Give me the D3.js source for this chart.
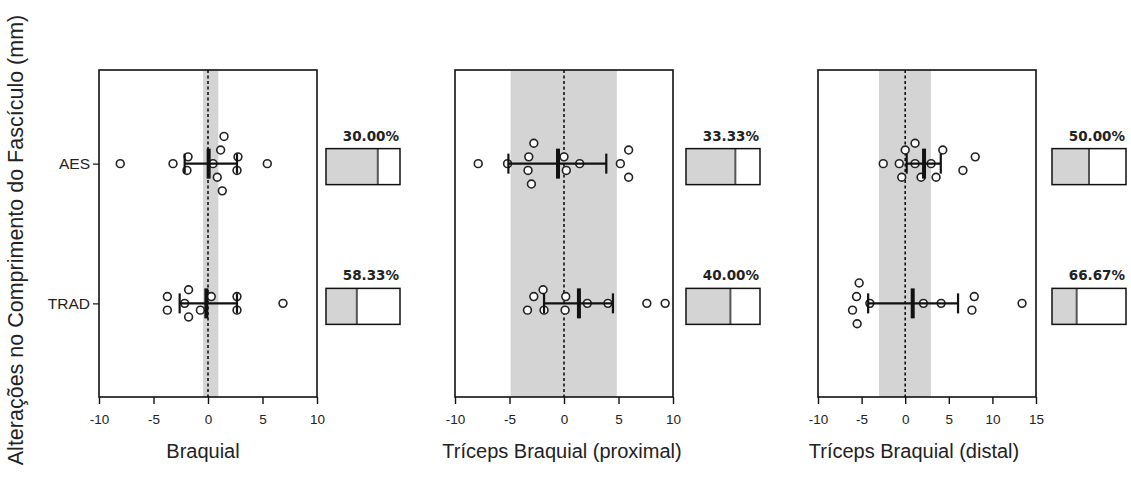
<!DOCTYPE html>
<html>
<head>
<meta charset="utf-8">
<script src="https://cdn.jsdelivr.net/npm/d3@7"></script>
<style>
body { margin: 0; background: #fff; }
text { font-family: "Liberation Sans", Arial, sans-serif; fill: #222; }
.tick text { font-family: "Liberation Sans Narrow", "Arial Narrow", "Liberation Sans", Arial, sans-serif; }
.pct { font-family: "DejaVu Sans", Verdana, sans-serif; font-weight: bold; }
</style>
</head>
<body>
<svg id="chart" width="1131" height="484"></svg>
<script>
var groups = ["AES", "TRAD"];
var muscles = ["Braquial", "Tríceps Braquial (proximal)", "Tríceps Braquial (distal)"];
var yTitle = "Alterações no Comprimento do Fascículo (mm)";
var xDomains = [[-10, 10], [-10, 10], [-10, 15]];
var xTicks = [[-10, -5, 0, 5, 10], [-10, -5, 0, 5, 10], [-10, -5, 0, 5, 10, 15]];
var bands = [[-0.45, 0.95], [-4.9, 4.85], [-3.0, 2.95]];

// individual changes (mm) and the row each dot sits on in the scatter
var braqAES = [-8.05, -3.21, -1.83, -1.93, 0.46, 0.85, 1.16, 1.31, 1.47, 2.75, 2.66, 5.44];
var braqAESRow = [0, 0, -1, 1, 0, 2, -2, 4, -4, -1, 1, 0];
var braqTRAD = [-3.73, -3.73, -2.14, -1.78, -1.78, -0.7, 0.3, 2.66, 2.66, 6.88];
var braqTRADRow = [-1, 1, 0, -2, 2, 1, -1, -1, 1, 0];
var proxAES = [-7.87, -5.18, -3.3, -3.23, -2.99, -2.77, 0.0, 0.21, 1.44, 5.17, 5.93, 5.93];
var proxAESRow = [0, 0, 1, -1, 3, -3, -1, 1, 0, 0, -2, 2];
var proxTRAD = [-3.35, -2.77, -1.92, -1.83, 0.16, 0.1, 2.14, 4.03, 7.6, 9.28];
var proxTRADRow = [1, -1, -2, 1, -1, 1, 0, 0, 0, 0];
var distAES = [-2.52, -0.68, -0.4, 0.0, 1.13, 1.13, 1.82, 2.97, 3.54, 4.31, 6.62, 8.03];
var distAESRow = [0, 0, 2, -2, 0, -3, 2, 0, 2, -2, 1, -1];
var distTRAD = [-6.04, -5.58, -5.51, -5.28, -4.05, 2.09, 4.12, 7.65, 7.92, 13.4];
var distTRADRow = [1, -1, 3, -3, 0, 0, 0, 1, -1, 0];

// mean and error bar limits, [AES, TRAD]
var means = [[0.06, -0.15], [-0.55, 1.37], [2.16, 0.86]];
var lows = [[-2.14, -2.6], [-5.1, -1.83], [0.17, -4.25]];
var highs = [[2.66, 2.66], [3.88, 4.49], [4.08, 6.06]];

// percentage shown above each box, [AES, TRAD]
var pct = [[30.00, 58.33], [33.33, 40.00], [50.00, 66.67]];

var values = [[braqAES, braqTRAD], [proxAES, proxTRAD], [distAES, distTRAD]];
var rows = [[braqAESRow, braqTRADRow], [proxAESRow, proxTRADRow], [distAESRow, distTRADRow]];

// layout
var plotLeft = [99, 455, 818], plotW = 218, plotTop = 70, plotBottom = 397;
var boxX = [326, 686, 1052], boxW = 74, boxH = 36;
var titleX = [203, 562, 914];

var svg = d3.select("#chart");

var y = d3.scalePoint().domain(groups).range([plotTop, plotBottom]).padding(0.67);
var lane = d3.scaleLinear().domain([0, 1]).range([0, 6.8]);
var boxScale = d3.scaleLinear().domain([0, 100]).range([0, boxW]);

svg.append("text")
    .attr("transform", "translate(23," + 240 + ") rotate(-90)")
    .attr("text-anchor", "middle")
    .style("font-size", "21.5px")
    .text(yTitle);

muscles.forEach(function(m, i) {
    var x = d3.scaleLinear().domain(xDomains[i]).range([plotLeft[i], plotLeft[i] + plotW]);
    var g = svg.append("g");

    // grey band and zero line
    g.append("rect")
        .attr("x", x(bands[i][0]))
        .attr("y", plotTop)
        .attr("width", x(bands[i][1]) - x(bands[i][0]))
        .attr("height", plotBottom - plotTop)
        .attr("fill", "#d4d4d4");

    g.append("line")
        .attr("x1", x(0)).attr("x2", x(0))
        .attr("y1", plotTop).attr("y2", plotBottom)
        .attr("stroke", "#111")
        .attr("stroke-width", 1.6)
        .attr("stroke-dasharray", "3,2.5");

    // x axis
    var xAxis = g.append("g")
        .attr("transform", "translate(0," + plotBottom + ")")
        .call(d3.axisBottom(x).tickValues(xTicks[i]).tickSize(7).tickSizeOuter(0).tickPadding(10)
            .tickFormat(function(d) { return String(d); }));
    xAxis.select(".domain").remove();
    xAxis.selectAll(".tick line").attr("stroke", "#111").attr("stroke-width", 1.4);
    xAxis.selectAll(".tick text").style("font-size", "13.5px").attr("fill", "#222");

    if (i == 0) {
        var yAxis = g.append("g")
            .attr("transform", "translate(" + plotLeft[i] + ",0)")
            .call(d3.axisLeft(y).tickSize(6).tickSizeOuter(0).tickPadding(3));
        yAxis.select(".domain").remove();
        yAxis.selectAll(".tick line").attr("stroke", "#111").attr("stroke-width", 1.2);
        yAxis.selectAll(".tick text")
            .style("font-family", "'Liberation Sans', Arial, sans-serif")
            .style("font-size", "15.5px").attr("fill", "#222");
    }

    g.append("rect")
        .attr("x", plotLeft[i]).attr("y", plotTop)
        .attr("width", plotW).attr("height", plotBottom - plotTop)
        .attr("fill", "none")
        .attr("stroke", "#111")
        .attr("stroke-width", 1.6);

    groups.forEach(function(grp, j) {
        var cy = y(grp);
        var pts = values[i][j].map(function(v, k) { return { v: v, r: rows[i][j][k] }; });

        g.selectAll(".dot" + j)
            .data(pts)
            .enter()
            .append("circle")
            .attr("class", "dot" + j)
            .attr("cx", function(d) { return x(d.v); })
            .attr("cy", function(d) { return cy + lane(d.r); })
            .attr("r", 3.9)
            .attr("fill", "#fff")
            .attr("stroke", "#222")
            .attr("stroke-width", 1.6);

        // error bar
        g.append("line")
            .attr("x1", x(lows[i][j])).attr("x2", x(highs[i][j]))
            .attr("y1", cy).attr("y2", cy)
            .attr("stroke", "#111").attr("stroke-width", 2.4);
        [lows[i][j], highs[i][j]].forEach(function(v) {
            g.append("line")
                .attr("x1", x(v)).attr("x2", x(v))
                .attr("y1", cy - 10).attr("y2", cy + 10)
                .attr("stroke", "#111").attr("stroke-width", 2.2);
        });
        g.append("line")
            .attr("x1", x(means[i][j])).attr("x2", x(means[i][j]))
            .attr("y1", cy - 15).attr("y2", cy + 15)
            .attr("stroke", "#111").attr("stroke-width", 4);

        // percentage box
        var by = cy + 3 - boxH / 2;
        g.append("rect")
            .attr("x", boxX[i]).attr("y", by)
            .attr("width", boxScale(100 - pct[i][j])).attr("height", boxH)
            .attr("fill", "#d4d4d4");
        g.append("line")
            .attr("x1", boxX[i] + boxScale(100 - pct[i][j]))
            .attr("x2", boxX[i] + boxScale(100 - pct[i][j]))
            .attr("y1", by).attr("y2", by + boxH)
            .attr("stroke", "#555").attr("stroke-width", 2);
        g.append("rect")
            .attr("x", boxX[i]).attr("y", by)
            .attr("width", boxW).attr("height", boxH)
            .attr("fill", "none")
            .attr("stroke", "#111").attr("stroke-width", 1.5);
        g.append("text")
            .attr("class", "pct")
            .attr("x", boxX[i] + boxW - 1)
            .attr("y", by - 8)
            .attr("text-anchor", "end")
            .style("font-size", "13.5px")
            .attr("fill", "#333")
            .text(pct[i][j].toFixed(2) + "%");
    });

    svg.append("text")
        .attr("x", titleX[i])
        .attr("y", 458)
        .attr("text-anchor", "middle")
        .style("font-size", "20px")
        .text(m);
});
</script>
</body>
</html>
